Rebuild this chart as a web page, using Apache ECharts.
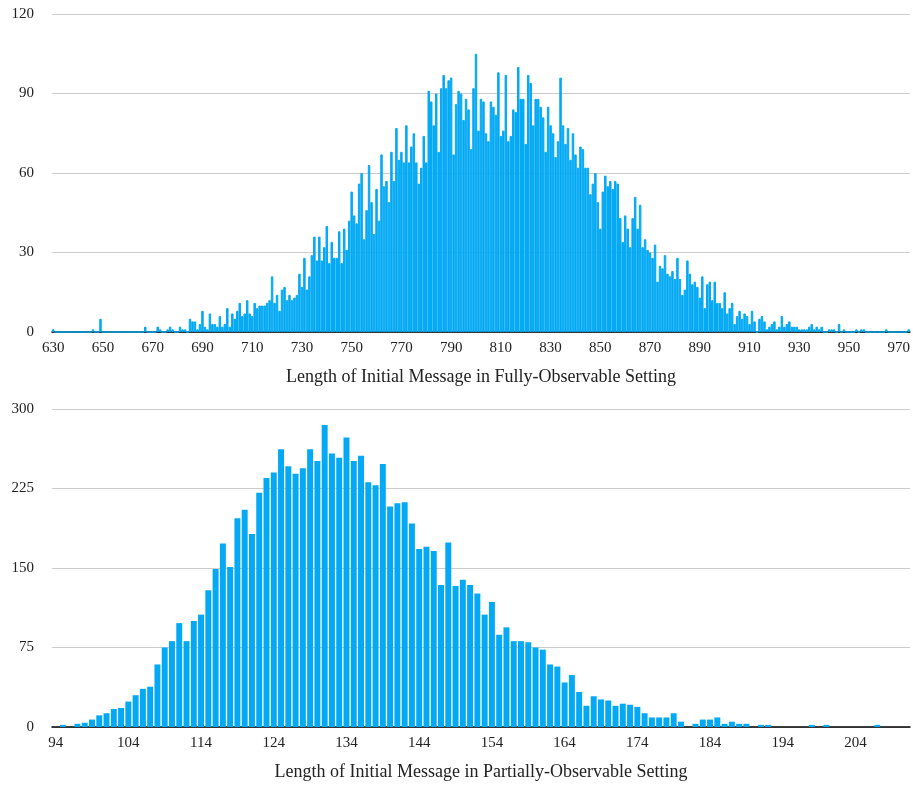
<!DOCTYPE html>
<html>
<head>
<meta charset="utf-8">
<script src="https://cdn.jsdelivr.net/npm/echarts@6/dist/echarts.min.js"></script>
<style>
  html, body { margin: 0; padding: 0; background: #ffffff; }
  #chart { width: 913px; height: 787px; }
</style>
</head>
<body>
<div id="chart"></div>
<script>
// ---- Data ----
// Fully-observable setting: message lengths 630..974 (bin width 1)
const topStart = 630;
const topCounts = [
  1,0,0,0,0,0,0,0,0,0,
  0,0,0,0,0,0,1,0,0,5,
  0,0,0,0,0,0,0,0,0,0,
  0,0,0,0,0,0,0,2,0,0,
  0,0,2,1,0,0,1,2,1,0,
  0,2,1,1,0,5,4,4,1,3,
  8,2,1,7,3,3,2,6,2,3,
  9,2,7,5,8,11,6,7,12,7,
  6,11,9,10,10,10,11,12,21,11,
  14,8,16,17,12,14,12,13,14,22,
  17,28,16,21,29,36,27,36,27,32,
  40,26,34,28,28,38,26,39,31,42,
  53,44,41,56,60,35,46,63,49,37,
  54,42,67,55,57,49,68,57,77,65,
  68,64,78,64,70,75,64,56,62,74,
  64,91,87,78,90,68,92,97,92,95,
  96,67,86,91,90,80,88,84,69,92,
  105,76,88,87,75,72,87,85,82,98,
  74,76,97,72,74,84,83,100,88,88,
  71,97,94,78,88,88,85,81,68,85,
  78,75,66,72,96,78,71,77,65,75,
  67,62,70,69,62,62,52,56,60,49,
  39,53,59,55,57,54,57,56,43,34,
  44,39,32,43,51,39,48,32,35,31,
  30,28,33,19,25,24,29,22,21,23,
  20,28,20,14,16,27,22,18,19,17,
  13,21,9,18,19,12,19,11,11,9,
  15,7,9,11,3,6,8,5,7,6,
  3,8,4,0,5,6,4,1,2,3,
  4,1,2,6,2,3,4,2,2,2,
  1,1,1,1,2,3,1,2,1,2,
  0,0,1,1,1,0,3,0,1,0,
  0,0,0,1,0,1,1,0,0,0,
  0,0,0,0,0,1,0,0,0,0,
  0,0,0,0,1
];
const topCategories = topCounts.map((_, i) => String(topStart + i));
const topTicks = [0, 30, 60, 90, 120];
const topTitle = 'Length of Initial Message in Fully-Observable Setting';

// Partially-observable setting: message lengths 94..211 (bin width 1)
const botStart = 94;
const botCounts = [
  0,2,0,3,4,7,11,13,17,18,
  24,30,36,38,59,75,81,98,81,100,
  106,129,149,173,151,197,205,182,221,235,
  240,262,246,239,244,262,251,285,258,254,
  273,251,256,231,228,248,208,211,212,192,
  168,170,166,134,174,133,139,134,126,106,
  118,87,94,81,81,80,75,73,59,57,
  42,49,33,20,29,26,25,20,22,21,
  19,13,9,9,9,13,5,0,3,7,
  7,9,3,5,3,3,0,2,2,0,
  0,0,0,0,2,0,2,0,0,0,
  0,0,0,2,0,0,0,0
];
const botCategories = botCounts.map((_, i) => String(botStart + i));
const botTicks = [0, 75, 150, 225, 300];
const botTitle = 'Length of Initial Message in Partially-Observable Setting';

// ---- Chart ----
const FONT = '"Liberation Serif", "Times New Roman", serif';
const TXT = '#222222';
const BAR = '#03A9F4';

function xAxisCfg(gridIndex, cats, every, title) {
  return {
    type: 'category', gridIndex: gridIndex, data: cats,
    boundaryGap: true,
    axisLine: { show: true, lineStyle: { color: '#000000', width: 1.5 } },
    axisTick: { show: false },
    axisLabel: { interval: every - 1, color: TXT, fontFamily: FONT, fontSize: 15, margin: 9 },
    splitLine: { show: false },
    name: title, nameLocation: 'middle', nameGap: 36,
    nameTextStyle: { color: TXT, fontFamily: FONT, fontSize: 18 }
  };
}
function yAxisCfg(gridIndex, ticks) {
  return {
    type: 'value', gridIndex: gridIndex,
    min: ticks[0], max: ticks[ticks.length - 1], interval: ticks[1] - ticks[0],
    axisLine: { show: false }, axisTick: { show: false },
    axisLabel: { color: TXT, fontFamily: FONT, fontSize: 15, margin: 18 },
    splitLine: { show: true, lineStyle: { color: '#cccccc', width: 1 } }
  };
}

const chart = echarts.init(document.getElementById('chart'), null, { renderer: 'canvas' });
chart.setOption({
  animation: false,
  backgroundColor: '#ffffff',
  grid: [
    { left: 52, right: 3, top: 14, height: 318 },
    { left: 52, right: 3, top: 409, height: 318 }
  ],
  xAxis: [
    xAxisCfg(0, topCategories, 20, topTitle),
    xAxisCfg(1, botCategories, 10, botTitle)
  ],
  yAxis: [
    yAxisCfg(0, topTicks),
    yAxisCfg(1, botTicks)
  ],
  series: [
    { type: 'bar', xAxisIndex: 0, yAxisIndex: 0, data: topCounts,
      barCategoryGap: '0%',
      itemStyle: { color: BAR, borderColor: BAR, borderWidth: 1 } },
    { type: 'bar', xAxisIndex: 1, yAxisIndex: 1, data: botCounts,
      barCategoryGap: '18%', itemStyle: { color: BAR } }
  ]
});
</script>
</body>
</html>
